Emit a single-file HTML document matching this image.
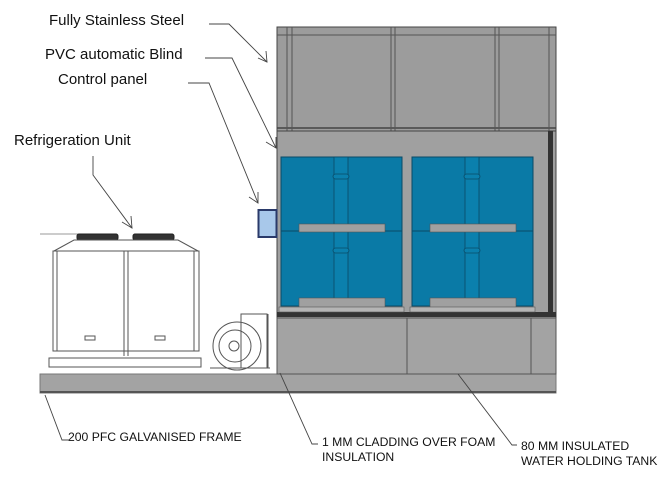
<!DOCTYPE html><html><head><style>body{margin:0;background:#fff}svg{display:block}text{font-family:"Liberation Sans",sans-serif;fill:#111}</style></head><body>
<svg width="671" height="481" viewBox="0 0 671 481" xmlns="http://www.w3.org/2000/svg">
<rect x="40" y="374" width="516" height="19" fill="#a3a3a3" stroke="#777" stroke-width="1"/>
<line x1="40" y1="392" x2="556" y2="392" stroke="#555" stroke-width="2"/>
<rect x="277" y="27" width="279" height="104" fill="#9c9c9c" stroke="#444"/>
<line x1="277" y1="35" x2="556" y2="35" stroke="#555"/>
<line x1="277" y1="128" x2="556" y2="128" stroke="#444" stroke-width="1.5"/>
<g stroke="#555" fill="none"><line x1="287" y1="27" x2="287" y2="131"/><line x1="292" y1="27" x2="292" y2="131"/>
<line x1="391" y1="27" x2="391" y2="131"/><line x1="395" y1="27" x2="395" y2="131"/>
<line x1="495" y1="27" x2="495" y2="131"/><line x1="499" y1="27" x2="499" y2="131"/>
<line x1="549" y1="27" x2="549" y2="131"/></g>
<rect x="277" y="131" width="279" height="187" fill="#a0a0a0" stroke="#444"/>
<rect x="548" y="131" width="5" height="186" fill="#333"/>
<rect x="277" y="312" width="279" height="5" fill="#333"/>
<g id="c">
<rect x="281" y="157" width="121" height="149" fill="#0a7aa6" stroke="#0a4a66"/>
<line x1="281" y1="231" x2="402" y2="231" stroke="#0a4a66"/>
<rect x="334" y="157" width="14" height="149" fill="#0b80ad" stroke="#0a4a66" stroke-width="0.8"/>
<rect x="333" y="174" width="16" height="5" rx="2.5" fill="#0b80ad" stroke="#0a4a66" stroke-width="0.8"/>
<rect x="333" y="248" width="16" height="5" rx="2.5" fill="#0b80ad" stroke="#0a4a66" stroke-width="0.8"/>
<rect x="299" y="224" width="86" height="8" fill="#a0a0a0" stroke="#555" stroke-width="0.6"/>
<rect x="299" y="298" width="86" height="10" fill="#a0a0a0" stroke="#555" stroke-width="0.6"/>
<rect x="279" y="307" width="125" height="5" fill="#b5b5b5" stroke="#555" stroke-width="0.6"/>
</g>
<use href="#c" x="131"/>
<rect x="277" y="318" width="279" height="56" fill="#a3a3a3" stroke="#555"/>
<line x1="407" y1="318" x2="407" y2="374" stroke="#555"/>
<line x1="531" y1="318" x2="531" y2="374" stroke="#555"/>
<rect x="258.5" y="210" width="18" height="27" fill="#a8c8ea" stroke="#2a3a6a" stroke-width="2"/>
<g stroke="#555" fill="none" stroke-width="1">
<line x1="40" y1="234" x2="78" y2="234" stroke="#999"/>
<rect x="77" y="234" width="41" height="6" rx="2" fill="#333" stroke="#222"/>
<rect x="133" y="234" width="41" height="6" rx="2" fill="#333" stroke="#222"/>
<path d="M74 240 L178 240 L198 251 L54 251 Z"/>
<rect x="53" y="251" width="146" height="100"/>
<line x1="57" y1="251" x2="57" y2="351"/><line x1="194" y1="251" x2="194" y2="351"/>
<line x1="124" y1="251" x2="124" y2="356"/><line x1="128" y1="251" x2="128" y2="356"/>
<rect x="49" y="358" width="152" height="9"/>
<line x1="53" y1="351" x2="199" y2="351"/>
<rect x="85" y="336" width="10" height="4"/><rect x="155" y="336" width="10" height="4"/>
<circle cx="237" cy="346" r="24"/><circle cx="235" cy="346" r="16"/><circle cx="234" cy="346" r="5"/>
<rect x="241" y="314" width="26" height="54"/>
<line x1="268" y1="314" x2="268" y2="368"/>
<line x1="210" y1="368" x2="270" y2="368"/>
</g>
<g font-size="15"><text x="49" y="25">Fully Stainless Steel</text>
<text x="45" y="59">PVC automatic Blind</text>
<text x="58" y="84">Control panel</text>
<text x="14" y="145">Refrigeration Unit</text></g>
<g font-size="12.2"><text x="68" y="441">200 PFC GALVANISED FRAME</text>
<text x="322" y="446">1 MM CLADDING OVER FOAM</text><text x="322" y="461">INSULATION</text>
<text x="521" y="450">80 MM INSULATED</text><text x="521" y="465">WATER HOLDING TANK</text></g>
<g stroke="#444" fill="none" stroke-width="0.9">
<polyline points="209,24 229,24 267,62"/><polyline points="258,58 267,62 266,51"/>
<polyline points="205,58 232,58 276,148"/><polyline points="266,142 276,148 276,137"/>
<polyline points="188,83 209,83 258,203"/><polyline points="249,197 258,203 258,192"/>
<polyline points="93,156 93,175 132,228"/><polyline points="122,222 132,228 131,216"/>
<polyline points="70,440 62,440 45,395"/>
<polyline points="318,444 312,444 280,373"/>
<polyline points="517,445 512,445 458,374"/>
</g>
</svg></body></html>
